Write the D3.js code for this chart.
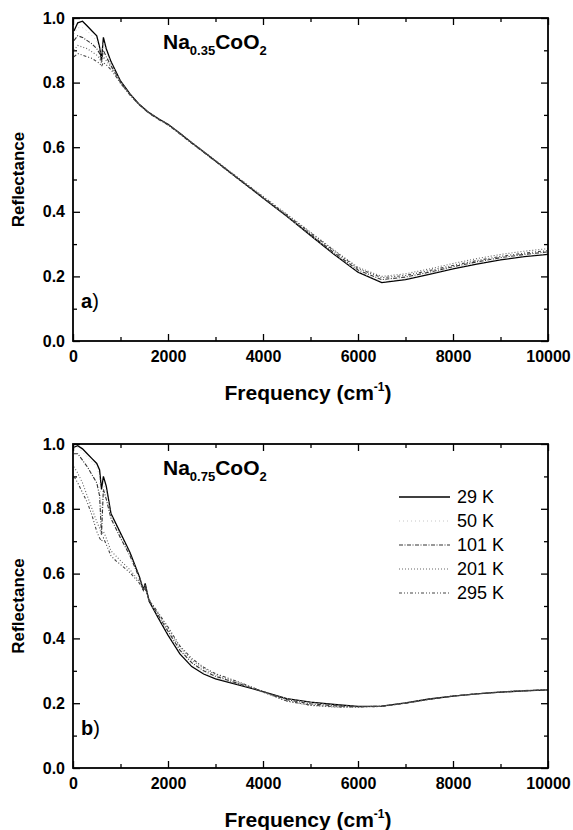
<!DOCTYPE html>
<html><head><meta charset="utf-8">
<script src="https://cdn.jsdelivr.net/npm/d3@7/dist/d3.min.js"></script>
<style>body{margin:0;background:#fff}svg{display:block}</style>
</head><body>
<script>
const temps = ["29 K","50 K","101 K","201 K","295 K"];
const xTicks = [0,2000,4000,6000,8000,10000];
const yTicks = [0.0,0.2,0.4,0.6,0.8,1.0];

const freqA = [20,100,200,300,400,500,560,600,640,700,800,900,1000,1200,1400,1600,1800,2000,2250,2500,2750,3000,3500,4000,4500,5000,5500,6000,6500,7000,7500,8000,8500,9000,9500,10000];
const a29  = [0.96,0.985,0.99,0.975,0.96,0.945,0.91,0.87,0.94,0.905,0.865,0.835,0.805,0.765,0.732,0.707,0.688,0.671,0.643,0.614,0.586,0.557,0.500,0.443,0.386,0.327,0.268,0.213,0.181,0.190,0.206,0.223,0.238,0.251,0.261,0.268];
const a50  = [0.95,0.97,0.97,0.96,0.945,0.93,0.905,0.88,0.925,0.895,0.86,0.832,0.803,0.764,0.731,0.706,0.687,0.670,0.642,0.613,0.585,0.556,0.499,0.442,0.385,0.327,0.269,0.215,0.184,0.193,0.209,0.226,0.241,0.254,0.264,0.271];
const a101 = [0.93,0.945,0.94,0.93,0.92,0.905,0.89,0.865,0.9,0.88,0.852,0.828,0.8,0.762,0.73,0.705,0.686,0.669,0.641,0.612,0.584,0.556,0.499,0.443,0.387,0.33,0.273,0.22,0.19,0.198,0.213,0.23,0.245,0.258,0.268,0.276];
const a201 = [0.9,0.915,0.91,0.905,0.895,0.885,0.875,0.86,0.88,0.868,0.848,0.825,0.8,0.763,0.731,0.707,0.688,0.671,0.643,0.615,0.587,0.559,0.503,0.448,0.393,0.337,0.281,0.228,0.2,0.208,0.223,0.24,0.255,0.268,0.278,0.286];
const a295 = [0.88,0.89,0.885,0.88,0.875,0.865,0.86,0.85,0.862,0.855,0.84,0.82,0.798,0.762,0.731,0.707,0.688,0.671,0.643,0.614,0.586,0.558,0.502,0.446,0.391,0.335,0.279,0.225,0.196,0.203,0.218,0.234,0.249,0.262,0.272,0.28];

const freqB = [20,100,200,300,400,500,560,600,640,700,800,900,1000,1200,1400,1480,1520,1600,1800,2000,2250,2500,2750,3000,3500,4000,4500,5000,5500,6000,6500,7000,7500,8000,8500,9000,9500,10000];
const b29  = [0.99,0.995,0.985,0.97,0.955,0.94,0.92,0.86,0.9,0.87,0.785,0.755,0.725,0.665,0.59,0.55,0.57,0.515,0.462,0.41,0.352,0.313,0.29,0.275,0.256,0.236,0.214,0.203,0.196,0.19,0.191,0.201,0.213,0.222,0.229,0.234,0.238,0.241];
const b50  = [0.985,0.99,0.975,0.96,0.945,0.93,0.9,0.78,0.88,0.855,0.78,0.75,0.72,0.66,0.588,0.55,0.565,0.515,0.465,0.415,0.357,0.318,0.294,0.278,0.258,0.237,0.214,0.202,0.195,0.19,0.191,0.201,0.213,0.222,0.229,0.234,0.238,0.241];
const b101 = [0.97,0.97,0.95,0.93,0.905,0.88,0.84,0.72,0.86,0.83,0.77,0.74,0.71,0.655,0.585,0.55,0.56,0.518,0.47,0.422,0.364,0.325,0.3,0.283,0.26,0.236,0.211,0.198,0.192,0.189,0.191,0.2,0.212,0.222,0.229,0.234,0.238,0.241];
const b201 = [0.93,0.91,0.88,0.84,0.8,0.76,0.74,0.72,0.73,0.71,0.67,0.655,0.64,0.612,0.575,0.55,0.555,0.52,0.475,0.43,0.372,0.333,0.307,0.288,0.263,0.234,0.206,0.193,0.188,0.188,0.19,0.2,0.212,0.222,0.229,0.235,0.239,0.242];
const b295 = [0.9,0.88,0.85,0.82,0.78,0.73,0.71,0.7,0.71,0.69,0.655,0.64,0.628,0.603,0.57,0.548,0.552,0.52,0.478,0.435,0.377,0.338,0.311,0.291,0.265,0.236,0.207,0.194,0.189,0.188,0.19,0.2,0.212,0.222,0.229,0.235,0.239,0.242];

const styles = [
  {stroke:"#000", dash:null, w:1.3},
  {stroke:"#c0c0c0", dash:"1,3", w:0.9},
  {stroke:"#333", dash:"4,1.5,1,1.5", w:1.1},
  {stroke:"#666", dash:"1,2", w:1.1},
  {stroke:"#444", dash:"3,2,1,2,1,2", w:1.1}
];

const FONT = "'Liberation Sans', Arial, Helvetica, sans-serif";
const W = 573, H = 830;
const svg = d3.select("body").append("svg").attr("width", W).attr("height", H)
  .style("font-family", FONT);

function panel(cfg) {
  const x = d3.scaleLinear().domain([0,10000]).range([73,548]);
  const y = d3.scaleLinear().domain([0,1]).range([cfg.y0, cfg.y1]);
  const g = svg.append("g");
  const xMinor = d3.range(1000,10000,2000);
  const yMinor = [0.1,0.3,0.5,0.7,0.9];

  const mk = (axisFn, scale, ticks, size, labels, pad) => {
    const a = axisFn(scale).tickValues(ticks).tickSizeInner(-size).tickSizeOuter(0).tickPadding(pad);
    if (!labels) a.tickFormat("");
    return a;
  };
  const addAxis = (axis, tr) => {
    const s = g.append("g").attr("transform", tr).call(axis);
    s.select(".domain").remove();
    s.selectAll("line").attr("stroke","#000").attr("stroke-width",1.3);
    s.selectAll("text").attr("font-size",16).attr("font-weight","bold").attr("fill","#000").attr("font-family",FONT);
    return s;
  };
  addAxis(mk(d3.axisBottom, x, xTicks, 7, true, 10).tickFormat(d3.format("d")), `translate(0,${cfg.y0})`);
  addAxis(mk(d3.axisBottom, x, xMinor, 4, false, 0), `translate(0,${cfg.y0})`);
  addAxis(mk(d3.axisTop, x, xTicks, 7, false, 0), `translate(0,${cfg.y1})`);
  addAxis(mk(d3.axisTop, x, xMinor, 4, false, 0), `translate(0,${cfg.y1})`);
  addAxis(mk(d3.axisLeft, y, yTicks, 7, true, 8).tickFormat(d3.format(".1f")), `translate(73,0)`);
  addAxis(mk(d3.axisLeft, y, yMinor, 4, false, 0), `translate(73,0)`);
  addAxis(mk(d3.axisRight, y, yTicks, 7, false, 0), `translate(548,0)`);
  addAxis(mk(d3.axisRight, y, yMinor, 4, false, 0), `translate(548,0)`);

  const line = d3.line().x(d => x(d[0])).y(d => y(d[1]));
  cfg.series.forEach((vals, i) => {
    const st = styles[i];
    g.append("path").datum(cfg.freq.map((f, k) => [f, vals[k]]))
      .attr("d", line).attr("fill","none").attr("stroke", st.stroke)
      .attr("stroke-width", st.w).attr("stroke-dasharray", st.dash);
  });

  g.append("rect").attr("x",73).attr("y",cfg.y1).attr("width",548-73).attr("height",cfg.y0-cfg.y1)
    .attr("fill","none").attr("stroke","#000").attr("stroke-width",1.8);

  g.append("text").attr("transform", `translate(24,${(cfg.y0+cfg.y1)/2}) rotate(-90)`)
    .attr("text-anchor","middle").attr("font-size",17).attr("font-weight","bold").text("Reflectance");
  const xt = g.append("text").attr("x",308).attr("y",cfg.y0+59).attr("text-anchor","middle")
    .attr("font-size",21).attr("font-weight","bold");
  xt.append("tspan").text("Frequency (cm");
  xt.append("tspan").attr("font-size",12).attr("dy",-9).text("-1");
  xt.append("tspan").attr("dy",9).text(")");

  const ct = g.append("text").attr("x",163).attr("y",cfg.y1+31).attr("font-size",21).attr("font-weight","bold");
  ct.append("tspan").text("Na");
  ct.append("tspan").attr("font-size",13).attr("dy",6).text(cfg.sub);
  ct.append("tspan").attr("dy",-6).text("CoO");
  ct.append("tspan").attr("font-size",13).attr("dy",6).text("2");

  const pt = g.append("text").attr("x",81).attr("y",cfg.y0-33).attr("font-size",20);
  pt.append("tspan").attr("font-weight","bold").text(cfg.tag);
  pt.append("tspan").text(")");
  return {x, y, g};
}

panel({y0:341, y1:18, freq:freqA, series:[a29,a50,a101,a201,a295], sub:"0.35", tag:"a"});
panel({y0:768, y1:444, freq:freqB, series:[b29,b50,b101,b201,b295], sub:"0.75", tag:"b"});

const lg = svg.append("g");
temps.forEach((t, i) => {
  const yy = 497 + i*24;
  const st = styles[i];
  lg.append("line").attr("x1",399).attr("x2",450).attr("y1",yy).attr("y2",yy)
    .attr("stroke",st.stroke).attr("stroke-width",st.w).attr("stroke-dasharray",st.dash);
  lg.append("text").attr("x",457).attr("y",yy+6).attr("font-size",18).text(t);
});
</script>
</body></html>
